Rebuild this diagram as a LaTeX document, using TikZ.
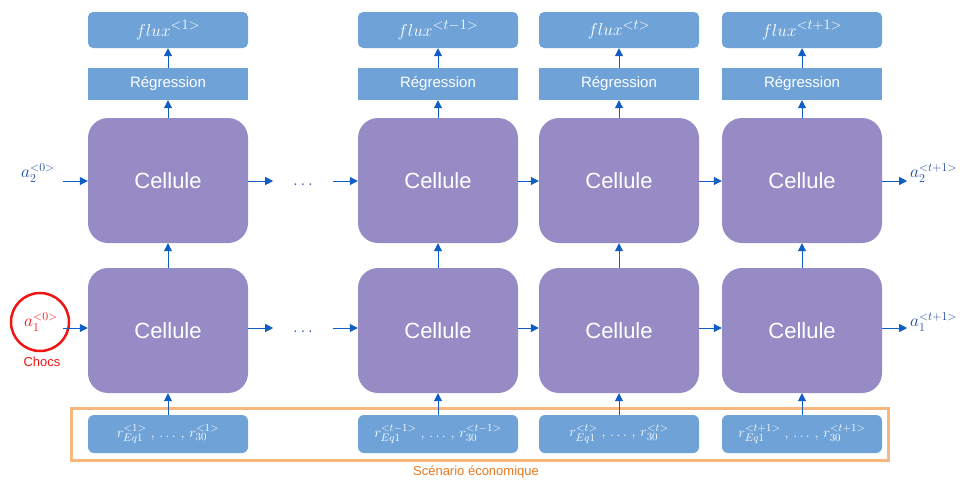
\documentclass[tikz,border=0pt]{standalone}
\usepackage{fontspec}
\setmainfont{Liberation Sans}
\usetikzlibrary{arrows.meta}
\definecolor{boxblue}{RGB}{111,163,216}
\definecolor{cellpurple}{RGB}{150,139,196}
\definecolor{arrowblue}{RGB}{16,94,196}
\definecolor{labelblue}{RGB}{30,75,160}
\definecolor{frameorange}{RGB}{248,183,126}
\definecolor{scenorange}{RGB}{232,120,30}
\definecolor{shockred}{RGB}{240,20,20}
\tikzset{
  cellbox/.style={fill=cellpurple, rounded corners=20pt, minimum width=160pt, minimum height=125pt,
    inner sep=0pt, text=white, font=\fontsize{22}{26}\selectfont},
  fluxbox/.style={fill=boxblue, rounded corners=5pt, minimum width=160pt, minimum height=36pt,
    inner sep=0pt, text=white, font=\fontsize{19}{22}\selectfont},
  regbox/.style={fill=boxblue, minimum width=160pt, minimum height=32pt,
    inner sep=0pt, text=white, font=\fontsize{15}{18}\selectfont},
  inbox/.style={fill=boxblue, rounded corners=6pt, minimum width=160pt, minimum height=38pt,
    inner sep=0pt, text=white, font=\fontsize{15}{18}\selectfont},
  flow/.style={draw=arrowblue, line width=1pt, -{Triangle[length=8pt,width=8pt]}},
  statelabel/.style={text=labelblue, font=\fontsize{18}{21}\selectfont, inner sep=0pt},
  dots/.style={text=labelblue, font=\fontsize{18}{21}\selectfont, inner sep=0pt}
}
\begin{document}
\begin{tikzpicture}[x=1pt,y=-1pt]
\useasboundingbox (0,0) rectangle (960,480);

% scenario frame
\draw[frameorange, line width=3pt] (71,408) rectangle (888,460);
\node[text=scenorange, font=\fontsize{13}{16}\selectfont] (scen) at (476,472) {Scénario économique};

% column 1
\node[fluxbox] (f1) at (168,30) {$flux^{<1>}$};
\node[regbox] (g1) at (168,84) {Régression};
\node[cellbox] (u1) at (168,180.5) {Cellule};
\node[cellbox] (l1) at (168,330.5) {Cellule};
\node[inbox] (r1) at (168,434) {$r_{Eq1}^{<1>}\;,\,\ldots\,,\,r_{30}^{<1>}$};

% column t-1
\node[fluxbox] (f2) at (438,30) {$flux^{<t-1>}$};
\node[regbox] (g2) at (438,84) {Régression};
\node[cellbox] (u2) at (438,180.5) {Cellule};
\node[cellbox] (l2) at (438,330.5) {Cellule};
\node[inbox] (r2) at (438,434) {$r_{Eq1}^{<t-1>}\;,\,\ldots\,,\,r_{30}^{<t-1>}$};

% column t
\node[fluxbox] (f3) at (619,30) {$flux^{<t>}$};
\node[regbox] (g3) at (619,84) {Régression};
\node[cellbox] (u3) at (619,180.5) {Cellule};
\node[cellbox] (l3) at (619,330.5) {Cellule};
\node[inbox] (r3) at (619,434) {$r_{Eq1}^{<t>}\;,\,\ldots\,,\,r_{30}^{<t>}$};

% column t+1
\node[fluxbox] (f4) at (802,30) {$flux^{<t+1>}$};
\node[regbox] (g4) at (802,84) {Régression};
\node[cellbox] (u4) at (802,180.5) {Cellule};
\node[cellbox] (l4) at (802,330.5) {Cellule};
\node[inbox] (r4) at (802,434) {$r_{Eq1}^{<t+1>}\;,\,\ldots\,,\,r_{30}^{<t+1>}$};

% vertical flow in each column
\foreach \c in {1,2,3,4}{
  \draw[flow] (r\c.north) -- (l\c.south);
  \draw[flow] (l\c.north) -- (u\c.south);
  \draw[flow] (u\c.north) -- (g\c.south);
  \draw[flow] (g\c.north) -- (f\c.south);
}

% initial states
\node[statelabel] (a20) at (38,173) {$a_2^{<0>}$};
\node[statelabel, text=shockred] (a10) at (41,322) {$a_1^{<0>}$};
\draw[shockred, line width=2.5pt] (40,322) circle (29pt);
\node[text=shockred, font=\fontsize{13}{16}\selectfont] (chocs) at (42,362) {Chocs};
\coordinate (s2) at (63,181);
\coordinate (s1) at (63,328);
\draw[flow] (s2) -- (u1.west |- s2);
\draw[flow] (s1) -- (l1.west |- s1);

% skipped time steps
\node[dots] (d2) at (303,185) {$\ldots$};
\node[dots] (d1) at (303,332) {$\ldots$};
\draw[flow] (u1.east |- s2) -- ++(25,0) coordinate (e2);
\draw[flow] (l1.east |- s1) -- ++(25,0) coordinate (e1);
\coordinate (b2) at (333,181);
\coordinate (b1) at (333,328);
\draw[flow] (b2) -- (u2.west |- b2);
\draw[flow] (b1) -- (l2.west |- b1);

% recurrent links
\draw[flow] (u2.east |- s2) -- (u3.west |- s2);
\draw[flow] (l2.east |- s1) -- (l3.west |- s1);
\draw[flow] (u3.east |- s2) -- (u4.west |- s2);
\draw[flow] (l3.east |- s1) -- (l4.west |- s1);

% final states
\draw[flow] (u4.east |- s2) -- ++(25,0) coordinate (o2);
\draw[flow] (l4.east |- s1) -- ++(25,0) coordinate (o1);
\node[statelabel, anchor=west] (a2t) at (910,173) {$a_2^{<t+1>}$};
\node[statelabel, anchor=west] (a1t) at (910,322) {$a_1^{<t+1>}$};
\end{tikzpicture}
\end{document}
